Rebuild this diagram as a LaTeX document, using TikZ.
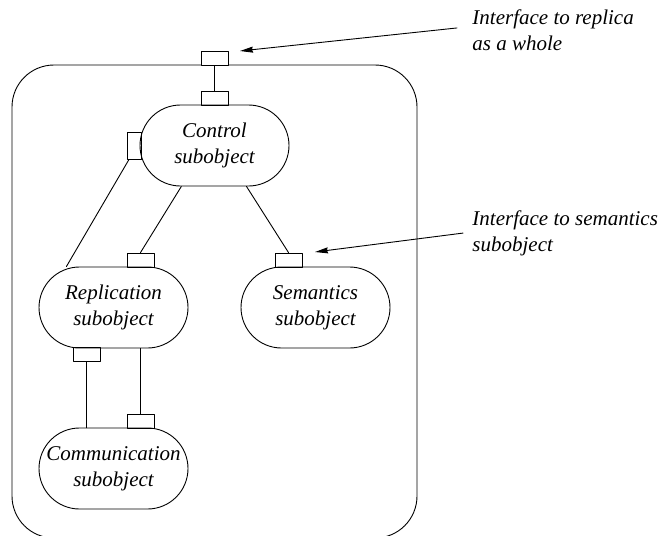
\documentclass[tikz,border=0pt]{standalone}
\usepackage{fontspec}
\setmainfont{Liberation Serif}
\usetikzlibrary{calc,arrows.meta}

\begin{document}
\begin{tikzpicture}[x=1pt,y=-1pt,>={Stealth[length=13pt,width=6pt,inset=1pt]}, line width=0.9pt, line join=round, line cap=round,
		font=\fontsize{21}{26}\selectfont\itshape,
		subobj/.style={draw, rectangle, rounded corners=40.5pt, minimum width=149pt, minimum height=81pt, inner sep=0pt, align=center},
		port/.style={draw, rectangle, minimum width=27pt, minimum height=14pt, inner sep=0pt},
		vport/.style={port, minimum width=14pt, minimum height=27pt},
		note/.style={anchor=north west, inner sep=0pt, align=left}]
			\useasboundingbox (0,0) rectangle (663,535);
			\draw[rounded corners=42pt] (12,65) rectangle (417,538);
			% subobjects
			\node[subobj] (ctrl) at (214.5,145.5) {Control\\subobject};
			\node[subobj] (repl) at (113.5,307.5) {Replication\\subobject};
			\node[subobj] (sem) at (315.5,307.5) {Semantics\\subobject};
			\node[subobj] (comm) at (113.5,468.5) {Communication\\subobject};
			% interfaces
			\node[port, fill=white] (op) at (214.5,58) {};
			\node[port] (ctp) at (214.5,98.5) {};
			\node[vport] (clp) at (134,145.5) {};
			\node[port] (rtp) at (140.5,260) {};
			\node[port] (stp) at (288.5,260) {};
			\node[port] (rbp) at (86.5,354.5) {};
			\node[port] (cmp) at (140.5,421.5) {};
			\draw (op.south) -- (ctp.north);
			\draw ([xshift=-5pt]clp.south) -- (repl.139);
			\draw (ctrl.231) -- (rtp.north);
			\draw (ctrl.308) -- (stp.north);
			\draw (rbp.south) -- (rbp.south |- comm.north);
			\draw (cmp.north |- repl.south) -- (cmp.north);
			% notes
			\node[note] (t1) at (472,9) {Interface to replica\\as a whole};
			\node[note] (t2) at (472,210) {Interface to semantics\\subobject};
			\coordinate (a1) at (240,51);
			\coordinate (a2) at (315,252);
			\draw[->] ([xshift=-15pt,yshift=2pt]t1.west) -- (a1);
			\draw[->] ([xshift=-9pt]t2.west) -- (a2);
		\end{tikzpicture}
\end{document}
